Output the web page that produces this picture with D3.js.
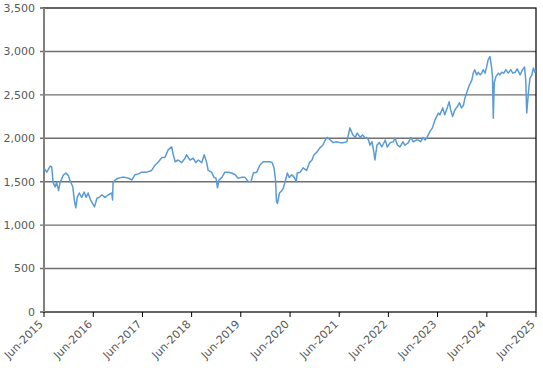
<!DOCTYPE html>
<html><head><meta charset="utf-8">
<script src="https://cdn.jsdelivr.net/npm/d3@7"></script>
<style>body{margin:0;background:#fff}svg{display:block}</style>
</head><body>
<script>
// decimal-year dates
const dates = [2015.41,2015.47,2015.54,2015.57,2015.60,2015.64,2015.67,2015.71,2015.74,2015.81,2015.86,2015.91,2015.94,2016.00,2016.03,2016.06,2016.09,2016.13,2016.18,2016.23,2016.27,2016.31,2016.36,2016.40,2016.44,2016.49,2016.54,2016.59,2016.65,2016.72,2016.79,2016.806,2016.816,2016.86,2016.92,2016.99,2017.06,2017.13,2017.20,2017.26,2017.33,2017.40,2017.50,2017.60,2017.67,2017.74,2017.81,2017.87,2017.94,2018.01,2018.04,2018.08,2018.14,2018.21,2018.28,2018.31,2018.38,2018.45,2018.50,2018.55,2018.62,2018.67,2018.72,2018.75,2018.82,2018.87,2018.91,2018.94,2018.97,2019.03,2019.09,2019.16,2019.23,2019.30,2019.36,2019.43,2019.50,2019.57,2019.62,2019.67,2019.74,2019.80,2019.87,2019.94,2020.01,2020.05,2020.09,2020.12,2020.14,2020.16,2020.20,2020.25,2020.28,2020.31,2020.36,2020.40,2020.45,2020.50,2020.54,2020.56,2020.62,2020.68,2020.75,2020.81,2020.86,2020.90,2020.96,2021.02,2021.08,2021.13,2021.17,2021.23,2021.29,2021.36,2021.43,2021.50,2021.57,2021.63,2021.69,2021.74,2021.78,2021.84,2021.89,2021.94,2021.97,2022.01,2022.04,2022.08,2022.11,2022.14,2022.18,2022.23,2022.28,2022.35,2022.39,2022.45,2022.51,2022.55,2022.60,2022.65,2022.71,2022.75,2022.82,2022.87,2022.92,2022.98,2023.02,2023.07,2023.12,2023.16,2023.20,2023.26,2023.31,2023.36,2023.43,2023.46,2023.52,2023.56,2023.61,2023.65,2023.68,2023.72,2023.77,2023.81,2023.86,2023.90,2023.94,2023.97,2024.01,2024.06,2024.11,2024.14,2024.17,2024.21,2024.24,2024.28,2024.31,2024.34,2024.38,2024.41,2024.44,2024.48,2024.51,2024.53,2024.546,2024.566,2024.60,2024.65,2024.68,2024.72,2024.76,2024.80,2024.85,2024.90,2024.94,2024.99,2025.03,2025.09,2025.14,2025.18,2025.205,2025.225,2025.26,2025.29,2025.33,2025.36,2025.39,2025.41];
const values = [1660,1610,1680,1670,1490,1440,1490,1400,1490,1580,1600,1570,1520,1440,1290,1200,1320,1370,1320,1380,1320,1370,1290,1250,1210,1310,1320,1350,1320,1350,1370,1290,1490,1520,1540,1550,1550,1540,1520,1580,1590,1610,1610,1630,1690,1730,1780,1780,1870,1900,1810,1730,1750,1720,1770,1810,1750,1770,1720,1750,1720,1810,1720,1630,1610,1550,1540,1430,1520,1550,1610,1610,1600,1580,1540,1550,1550,1500,1500,1600,1610,1690,1730,1730,1730,1720,1660,1520,1270,1250,1370,1400,1430,1490,1600,1550,1580,1550,1500,1600,1610,1660,1630,1720,1750,1810,1840,1890,1920,1980,2010,1980,1950,1960,1950,1950,1960,2120,2040,2010,2060,2010,2040,2000,2010,1980,1920,1960,1870,1750,1920,1950,1900,1980,1900,1950,1960,2000,1920,1900,1960,1920,1950,2010,1960,1980,1980,1960,2010,1980,2010,2080,2120,2210,2290,2270,2350,2270,2350,2420,2330,2250,2330,2360,2410,2350,2380,2460,2530,2610,2670,2750,2790,2730,2760,2730,2750,2790,2750,2820,2900,2940,2820,2710,2230,2640,2710,2750,2730,2760,2750,2790,2750,2790,2750,2760,2800,2730,2790,2820,2670,2290,2530,2690,2730,2810,2760,2790];
const yTicks = [0,500,1000,1500,2000,2500,3000,3500];
const xTickLabels = ["Jun-2015","Jun-2016","Jun-2017","Jun-2018","Jun-2019","Jun-2020","Jun-2021","Jun-2022","Jun-2023","Jun-2024","Jun-2025"];

function toDate(dy){const y=Math.floor(dy);const s=new Date(y,0,1),e=new Date(y+1,0,1);return new Date(+s+(dy-y)*(e-s));}
const data = dates.map((d,i)=>({date:toDate(d),value:values[i]}));
const xTickDates = xTickLabels.map(s=>new Date(+s.slice(4),5,1));

const W=543,H=368,m={l:44,r:7,t:8,b:56};
const svg=d3.select("body").append("svg").attr("width",W).attr("height",H);
const x=d3.scaleTime().domain([new Date(2015,5,1),new Date(2025,5,1)]).range([m.l,W-m.r]);
const y=d3.scaleLinear().domain([0,3500]).range([H-m.b,m.t]);
const font="'DejaVu Sans', Verdana, sans-serif";

// gridlines
svg.append("g").selectAll("line").data(yTicks.filter(v=>v>0&&v<3500)).join("line")
 .attr("x1",m.l-4).attr("x2",W-m.r).attr("y1",d=>y(d)).attr("y2",d=>y(d))
 .attr("stroke","#6f6f6f").attr("stroke-width",1.4);
// plot border
svg.append("rect").attr("x",m.l).attr("y",m.t).attr("width",W-m.r-m.l).attr("height",H-m.b-m.t)
 .attr("fill","none").attr("stroke","#000").attr("stroke-width",1.2);
svg.append("line").attr("x1",m.l-4).attr("x2",m.l).attr("y1",y(3500)).attr("y2",y(3500)).attr("stroke","#000");
svg.append("line").attr("x1",m.l-4).attr("x2",m.l).attr("y1",y(0)).attr("y2",y(0)).attr("stroke","#000");
// left axis line
svg.append("line").attr("x1",m.l).attr("x2",m.l).attr("y1",m.t).attr("y2",H-m.b).attr("stroke","#808080").attr("stroke-width",2);

// y labels
svg.append("g").selectAll("text").data(yTicks).join("text")
 .attr("x",m.l-9).attr("y",d=>y(d)).attr("dy","0.35em").attr("text-anchor","end")
 .attr("font-family",font).attr("font-size",11).attr("fill","#595959")
 .text(d=>d3.format(",")(d));

// x ticks + labels
const xg=svg.append("g");
xg.selectAll("line").data(xTickDates).join("line")
 .attr("x1",d=>x(d)).attr("x2",d=>x(d)).attr("y1",H-m.b).attr("y2",H-m.b+5).attr("stroke","#000");
xg.selectAll("text").data(xTickDates).join("text")
 .attr("transform",d=>`translate(${x(d)-3},${H-m.b+10}) rotate(-45)`)
 .attr("text-anchor","end").attr("dy","0.35em")
 .attr("font-family",font).attr("font-size",11).attr("fill","#595959")
 .text((d,i)=>xTickLabels[i]);

// line
svg.append("path").datum(data)
 .attr("d",d3.line().x(d=>x(d.date)).y(d=>y(d.value)))
 .attr("fill","none").attr("stroke","#5b9bd5").attr("stroke-width",1.5).attr("stroke-linejoin","round");
</script>
</body></html>
